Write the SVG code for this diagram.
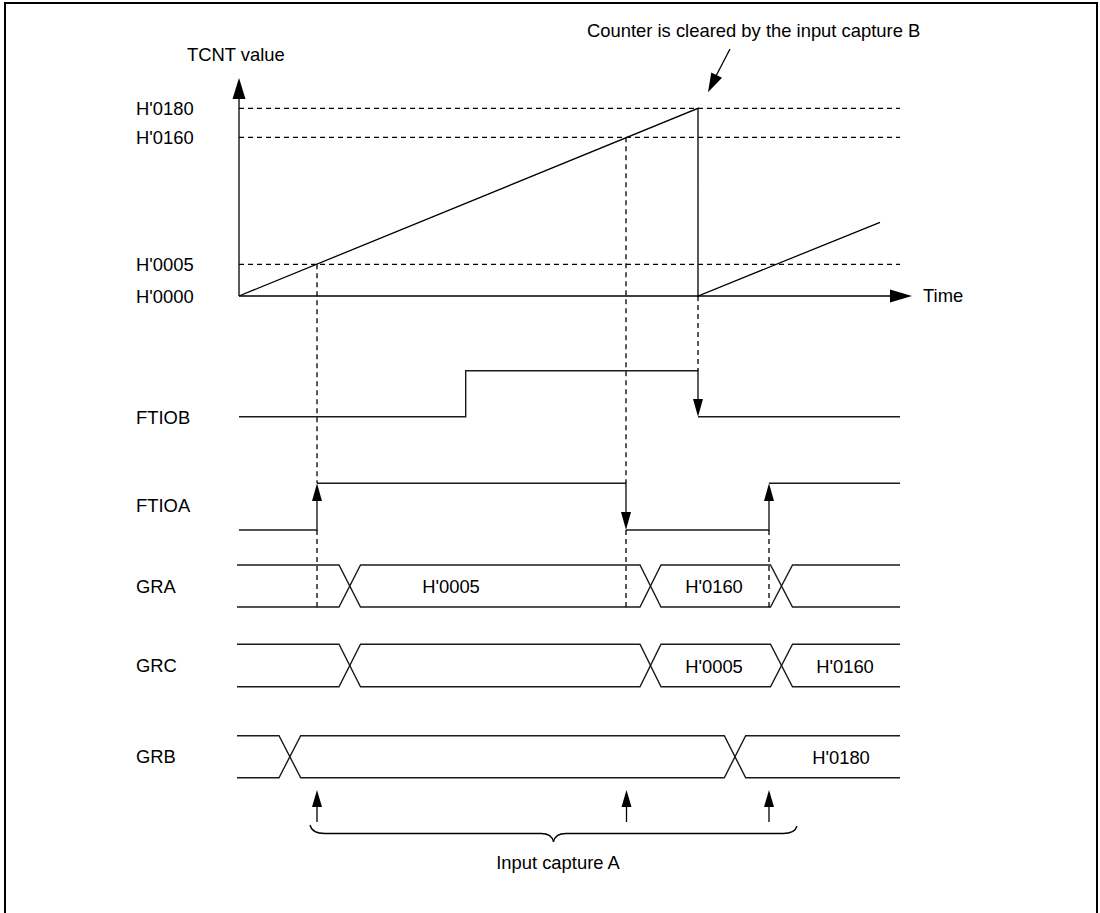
<svg xmlns="http://www.w3.org/2000/svg" width="1100" height="913" viewBox="0 0 1100 913">
<style>
text { font-family: "Liberation Sans", Arial, sans-serif; font-size: 18.4px; fill: #000; }
.ln { fill: none; stroke: #000; stroke-width: 1.3; }
.sig { fill: none; stroke: #1a1a1a; stroke-width: 1.4; }
.dash { fill: none; stroke: #000; stroke-width: 1.3; stroke-dasharray: 5 4; }
.head { fill: #000; stroke: none; }
.mid { text-anchor: middle; }
</style>
<rect x="0" y="0" width="1100" height="913" fill="#fff"/>
<rect x="5" y="3" width="1092" height="920" fill="none" stroke="#000" stroke-width="2"/>

<g id="graph">
  <text x="187" y="61">TCNT value</text>
  <text x="136" y="114.9">H'0180</text>
  <text x="136" y="143.9">H'0160</text>
  <text x="136" y="270.9">H'0005</text>
  <text x="136" y="302.6">H'0000</text>
  <text x="923" y="302">Time</text>
  <path class="ln" d="M239 296 V97"/>
  <polygon class="head" points="239,78 232.5,99 245.5,99"/>
  <path class="ln" d="M239 296 H892"/>
  <polygon class="head" points="912,296 890,289.5 890,302.5"/>
  <path class="dash" d="M239 108.3 H900 M239 137.3 H900 M239 264.3 H900"/>
  <path class="ln" d="M239 296 L698 108.3 V296 L880 222.3"/>
</g>

<g id="note-clear">
  <text x="587" y="37">Counter is cleared by the input capture B</text>
  <path class="ln" d="M730 49 L716 76"/>
  <polygon class="head" points="708,92.3 722,77.8 711.3,72.4"/>
</g>

<g id="ftiob">
  <text x="136" y="423.6">FTIOB</text>
  <path class="sig" d="M239 416.7 H465.7 V370.7 H698 V401"/>
  <path class="sig" d="M698 416.7 H900"/>
</g>

<g id="ftioa">
  <text x="136" y="511.5">FTIOA</text>
  <path class="sig" d="M239 530 H317 V498"/>
  <path class="sig" d="M317 483.3 H626 V514"/>
  <path class="sig" d="M626 530 H769 V498"/>
  <path class="sig" d="M769 483.3 H900"/>
</g>

<g id="gra">
  <text x="136" y="592.6">GRA</text>
  <path class="sig" d="M237 565 H339 L360.5 607 H640 L661 565 H770.5 L792.5 607 H900"/>
  <path class="sig" d="M237 607 H339 L360.5 565 H640 L661 607 H770.5 L792.5 565 H900"/>
  <text class="mid" x="451" y="593.3">H'0005</text>
  <text class="mid" x="714" y="593.3">H'0160</text>
</g>

<g id="grc">
  <text x="136" y="672.1">GRC</text>
  <path class="sig" d="M237 644.3 H339 L360.5 686.7 H640 L661 644.3 H770.5 L792.5 686.7 H900"/>
  <path class="sig" d="M237 686.7 H339 L360.5 644.3 H640 L661 686.7 H770.5 L792.5 644.3 H900"/>
  <text class="mid" x="714" y="673.3">H'0005</text>
  <text class="mid" x="845" y="673.3">H'0160</text>
</g>

<g id="grb">
  <text x="136" y="763.3">GRB</text>
  <path class="sig" d="M237 735.7 H279 L300.7 777.7 H724.3 L745.7 735.7 H900"/>
  <path class="sig" d="M237 777.7 H279 L300.7 735.7 H724.3 L745.7 777.7 H900"/>
  <text class="mid" x="841" y="764">H'0180</text>
</g>

<g id="capture-a">
  <path class="ln" d="M310 825 Q312 833.5 325 833.5 H541 Q552 833.5 553.5 842 Q555 833.5 566 833.5 H783 Q795 833.5 797 826"/>
  <text class="mid" x="558" y="869">Input capture A</text>
</g>

<g id="connectors">
  <path class="dash" d="M317 264.3 V483 M317 530 V607"/>
  <path class="dash" d="M626 137.3 V483 M626 530 V607"/>
  <path class="dash" d="M698 296 V370.7"/>
  <path class="dash" d="M769 530 V607"/>
  <polygon class="head" points="698,416.7 693,399 703,399"/>
  <polygon class="head" points="317,483.3 312,501 322,501"/>
  <polygon class="head" points="626,530 621,512 631,512"/>
  <polygon class="head" points="769,483.3 764,501 774,501"/>
  <path class="ln" d="M317 822 V805 M626.5 822 V805 M769 822 V805"/>
  <polygon class="head" points="317,790 312,807 322,807"/>
  <polygon class="head" points="626.5,790 621.5,807 631.5,807"/>
  <polygon class="head" points="769,790 764,807 774,807"/>
</g>
</svg>
